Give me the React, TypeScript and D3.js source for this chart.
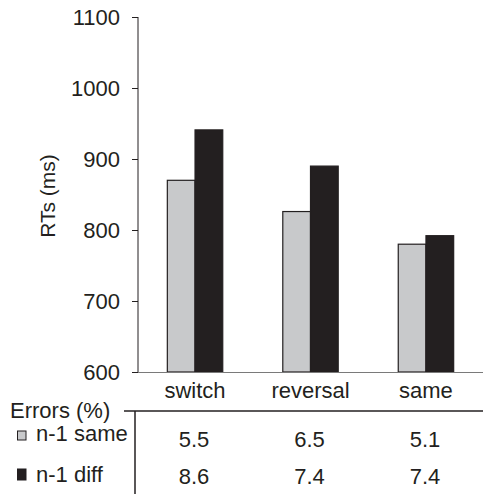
import React, { useEffect, useRef } from "react";
import * as d3 from "d3";

// data
const categories = ["switch", "reversal", "same"];
const seriesNames = ["n-1 same", "n-1 diff"];
const rtSame = [870, 826, 780];
const rtDiff = [941, 890, 792];
const errSame = ["5.5", "6.5", "5.1"];
const errDiff = ["8.6", "7.4", "7.4"];
const yTicks = [600, 700, 800, 900, 1000, 1100];

const W = 483;
const H = 494;
const FONT = "'Liberation Sans', Arial, sans-serif";
const FS = "22px";
const LIGHT = "#c8c9cb";
const DARK = "#231f20";

export default function App() {
  const svgRef = useRef<SVGSVGElement>(null);

  useEffect(() => {
    document.body.style.margin = "0";
    const svg = d3.select(svgRef.current);
    svg.selectAll("*").remove();

    const y = d3.scaleLinear().domain([600, 1100]).range([372, 17]);
    const x0 = d3
      .scaleBand()
      .domain(categories)
      .range([138, W])
      .paddingInner(0.52)
      .paddingOuter(0.254);
    const x1 = d3.scaleBand().domain(seriesNames).range([0, x0.bandwidth()]);
    const colors = [LIGHT, DARK];
    const values = [rtSame, rtDiff];

    const g = svg.append("g").style("font-family", FONT).attr("fill", DARK);

    // y axis
    const yAxis = d3
      .axisLeft(y)
      .tickValues(yTicks)
      .tickFormat(d3.format("d"))
      .tickSize(6)
      .tickPadding(12);
    const ya = g.append("g").attr("transform", "translate(138,0)").call(yAxis);
    ya.select(".domain").attr("stroke", DARK).attr("d", `M0,${y(1100)}V${y(600)}`);
    ya.selectAll(".tick line").attr("stroke", DARK);
    ya.selectAll(".tick text")
      .attr("fill", DARK)
      .style("font-size", FS)
      .style("font-family", FONT);

    g.append("text")
      .attr("transform", `translate(55,196) rotate(-90)`)
      .attr("text-anchor", "middle")
      .style("font-size", "21px")
      .text("RTs (ms)");

    // bars
    categories.forEach((c, i) => {
      seriesNames.forEach((s, j) => {
        const v = values[j][i];
        g.append("rect")
          .attr("x", x0(c)! + x1(s)!)
          .attr("y", y(v))
          .attr("width", x1.bandwidth())
          .attr("height", y(600) - y(v))
          .attr("fill", colors[j])
          .attr("stroke", DARK)
          .attr("stroke-width", 1.2);
      });
    });

    // x baseline
    g.append("line")
      .attr("x1", 138)
      .attr("x2", W)
      .attr("y1", y(600) + 0.5)
      .attr("y2", y(600) + 0.5)
      .attr("stroke", "#7a7a7a")
      .attr("stroke-width", 1.2);

    // category labels
    g.selectAll(".cat")
      .data(categories)
      .enter()
      .append("text")
      .attr("x", (d) => x0(d)! + x0.bandwidth() / 2)
      .attr("y", 398)
      .attr("text-anchor", "middle")
      .style("font-size", FS)
      .text((d) => d);

    // errors table
    g.append("text").attr("x", 10).attr("y", 418).style("font-size", FS).text("Errors (%)");
    g.append("line")
      .attr("x1", 124).attr("x2", W).attr("y1", 411).attr("y2", 411)
      .attr("stroke", DARK).attr("stroke-width", 1.5);
    g.append("line")
      .attr("x1", 135).attr("x2", 135).attr("y1", 411).attr("y2", H)
      .attr("stroke", DARK).attr("stroke-width", 1.5);

    const rowY = [447, 484];
    const legY = [441, 482];
    const errRows = [errSame, errDiff];
    seriesNames.forEach((s, j) => {
      g.append("rect")
        .attr("x", 17.5)
        .attr("y", legY[j] - (j === 0 ? 10 : 13))
        .attr("width", 8.5)
        .attr("height", j === 0 ? 9 : 11)
        .attr("fill", colors[j])
        .attr("stroke", DARK)
        .attr("stroke-width", 1);
      g.append("text")
        .attr("x", 36)
        .attr("y", legY[j])
        .style("font-size", FS)
        .text(s);
      g.selectAll(".err" + j)
        .data(errRows[j])
        .enter()
        .append("text")
        .attr("x", (d, i) => x0(categories[i])! + x0.bandwidth() / 2 - 1)
        .attr("y", rowY[j])
        .attr("text-anchor", "middle")
        .style("font-size", FS)
        .text((d) => d);
    });
  }, []);

  return (
    <svg
      ref={svgRef}
      width={W}
      height={H}
      style={{ display: "block", background: "#fff" }}
    />
  );
}
